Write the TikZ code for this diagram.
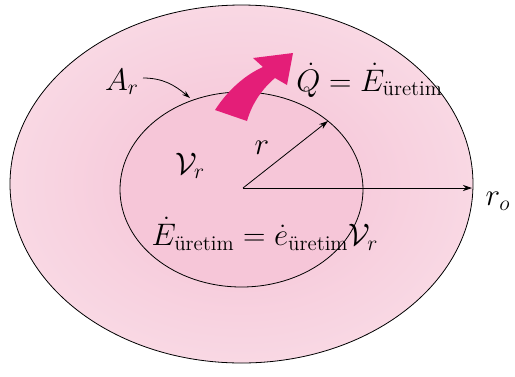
\documentclass[tikz,border=0pt]{standalone}
\usepackage{amsmath}
\usetikzlibrary{arrows.meta}
\definecolor{pinkA}{RGB}{245,192,212}
\definecolor{pinkB}{RGB}{249,218,229}
\definecolor{pinkC}{RGB}{246,198,216}
\definecolor{magentaA}{RGB}{228,30,120}
\pgfdeclareradialshading{ringshade}{\pgfpoint{0bp}{0bp}}{color(0bp)=(pinkA); color(27bp)=(pinkB); color(36bp)=(white); color(41bp)=(white!85!pinkB); color(47bp)=(pinkB); color(50bp)=(pinkA)}
\begin{document}
\begin{tikzpicture}[x=1pt,y=-1pt,
  lbl/.style={inner sep=0pt,font=\fontsize{20}{24}\selectfont,scale=1.5},
  dim/.style={-{Stealth[length=9pt,width=6pt]},line width=0.8pt},
  outline/.style={line width=0.8pt,draw=black}]
\useasboundingbox (0,0) rectangle (515,376);
% outer cylinder
\shade[shading=ringshade,outline] (241.5,184) ellipse [x radius=231.5pt, y radius=179pt];
% inner region
\fill[pinkC] (241.5,189.5) ellipse [x radius=121.5pt, y radius=97.5pt];
\draw[outline] (241.5,189.5) ellipse [x radius=121.5pt, y radius=97.5pt];
% heat arrow
\fill[magentaA] (215,110) .. controls (228,90) and (245,75) .. (263,67)
  -- (253,58) -- (293,53) -- (287,85) -- (275,78)
  .. controls (263,88) and (252,103) .. (247,121) -- cycle;
% coordinates
\coordinate (c) at (243,188);
\coordinate (rend) at (328,121);
\coordinate (roend) at (472,188);
\coordinate (arstart) at (143,78);
\coordinate (arend) at (190,98);
% arrows
\draw[dim] (c) -- (rend);
\draw[dim] (c) -- (roend);
\draw[-{Stealth[length=8pt,width=5pt]},line width=0.8pt] (arstart) to[out=0,in=140] (arend);
% labels
\node[lbl] (ar) at (122,82) {$A_r$};
\node[lbl] (vr) at (190,166) {$\mathcal{V}_r$};
\node[lbl] (r) at (262,148) {$r$};
\node[lbl] (ro) at (498,201) {$r_o$};
\node[lbl,anchor=west] (q) at (296,80) {$\dot Q = \dot E_{\text{üretim}}$};
\node[lbl] (e) at (265,234) {$\dot E_{\text{üretim}} = \dot e_{\text{üretim}}\mathcal{V}_r$};
\end{tikzpicture}
\end{document}
